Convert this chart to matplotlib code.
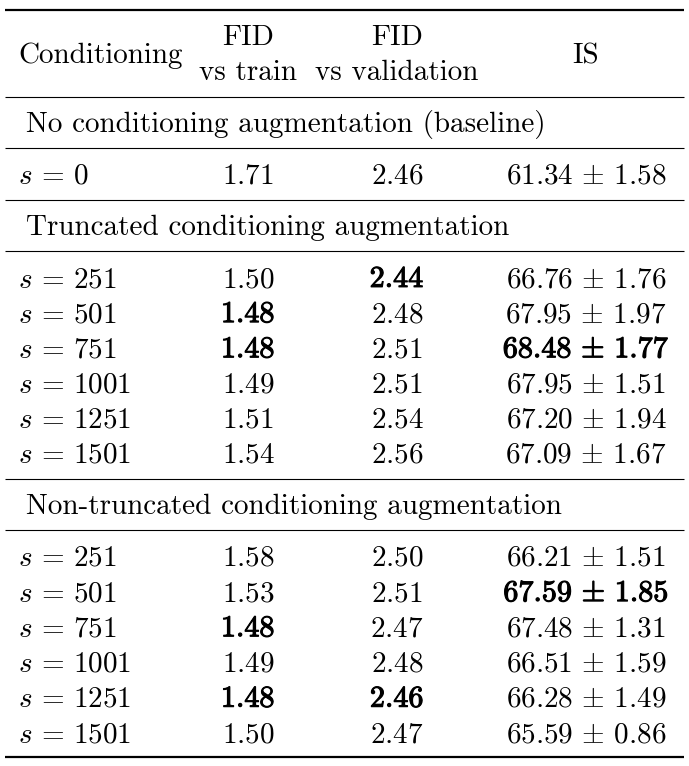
import matplotlib
matplotlib.use("Agg")
import matplotlib.pyplot as plt
import matplotlib.patheffects as pe

# table content
sections = ["No conditioning augmentation (baseline)",
            "Truncated conditioning augmentation",
            "Non-truncated conditioning augmentation"]
s_values = [[0],
            [251, 501, 751, 1001, 1251, 1501],
            [251, 501, 751, 1001, 1251, 1501]]
fid_train = [[1.71],
             [1.50, 1.48, 1.48, 1.49, 1.51, 1.54],
             [1.58, 1.53, 1.48, 1.49, 1.48, 1.50]]
fid_val = [[2.46],
           [2.44, 2.48, 2.51, 2.51, 2.54, 2.56],
           [2.50, 2.51, 2.47, 2.48, 2.46, 2.47]]
is_mean = [[61.34],
           [66.76, 67.95, 68.48, 67.95, 67.20, 67.09],
           [66.21, 67.59, 67.48, 66.51, 66.28, 65.59]]
is_std = [[1.58],
          [1.76, 1.97, 1.77, 1.51, 1.94, 1.67],
          [1.51, 1.85, 1.31, 1.59, 1.49, 0.86]]
# best entries are bold in the paper
bold_train = [[0], [0, 1, 1, 0, 0, 0], [0, 0, 1, 0, 1, 0]]
bold_val = [[0], [1, 0, 0, 0, 0, 0], [0, 0, 0, 0, 1, 0]]
bold_is = [[0], [0, 0, 1, 0, 0, 0], [0, 1, 0, 0, 0, 0]]

plt.rcParams['mathtext.fontset'] = 'cm'
plt.rcParams['font.family'] = 'cmr10'

W, H = 689, 766
fig = plt.figure(figsize=(W / 100, H / 100), dpi=100)
ax = fig.add_axes([0, 0, 1, 1])
ax.set_xlim(0, W)
ax.set_ylim(H, 0)
ax.axis('off')

fs = 21
x_left = 18
x_sec = 26
x_train = 248
x_val = 397
x_is = 586
rule_x0, rule_x1 = 5, 684
thick = [pe.withStroke(linewidth=0.8, foreground='black')]


def rule(y, lw=0.8):
    ax.plot([rule_x0, rule_x1], [y, y], color='black', lw=lw, solid_capstyle='butt')


def cell(x, y, txt, ha='center', bold=False):
    t = ax.text(x, y + 10, txt, ha=ha, va='baseline', fontsize=fs)
    if bold:
        t.set_fontsize(fs + 0.7)
        t.set_path_effects(thick)


# header
rule(10, lw=1.6)
ax.text(x_left, 63, 'Conditioning', ha='left', va='baseline', fontsize=fs)
ax.text(x_train, 45, 'FID', ha='center', va='baseline', fontsize=fs)
ax.text(x_train, 80, 'vs train', ha='center', va='baseline', fontsize=fs)
ax.text(x_val, 45, 'FID', ha='center', va='baseline', fontsize=fs)
ax.text(x_val, 80, 'vs validation', ha='center', va='baseline', fontsize=fs)
ax.text(x_is, 63, 'IS', ha='center', va='baseline', fontsize=fs)
rule(97)

y = 97
pitch = 35.2
for k, name in enumerate(sections):
    y += 25
    cell(x_sec, y, name, ha='left')
    y += 25.5
    rule(y)
    y += 26.5
    for i, s in enumerate(s_values[k]):
        cell(x_left, y, r'$s\,=\,%d$' % s, ha='left')
        cell(x_train, y, '$%.2f$' % fid_train[k][i], bold=bold_train[k][i])
        cell(x_val, y, '$%.2f$' % fid_val[k][i], bold=bold_val[k][i])
        cell(x_is, y, r'$%.2f\,\pm\,%.2f$' % (is_mean[k][i], is_std[k][i]),
             bold=bold_is[k][i])
        y += pitch
    y += 26 - pitch
    if k < len(sections) - 1:
        rule(y)
rule(757, lw=1.6)

fig.savefig('out.png', dpi=100)
